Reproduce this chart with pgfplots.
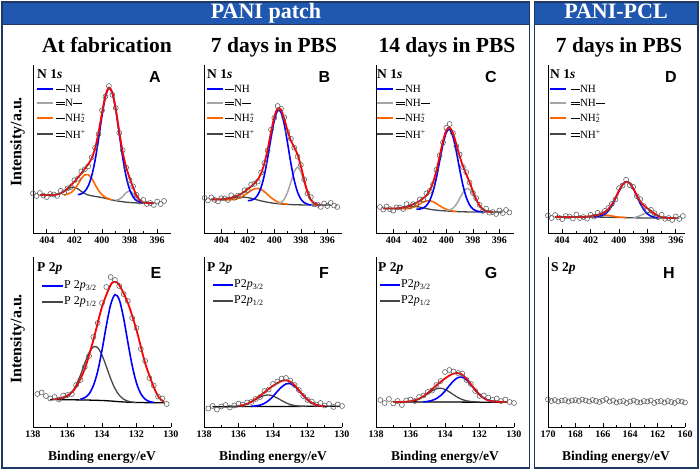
\documentclass[border=0pt]{standalone}
\usepackage{fontspec}
\setmainfont{Liberation Serif}
\newfontfamily\arialfont{Liberation Sans}
\usepackage{pgfplots}
\pgfplotsset{compat=1.18}
\definecolor{cblue}{RGB}{0,0,255}
\definecolor{cgray}{RGB}{165,165,165}
\definecolor{corange}{RGB}{255,102,0}
\definecolor{cdark}{RGB}{70,70,70}
\definecolor{cred}{RGB}{255,0,0}
\definecolor{scgray}{RGB}{90,90,90}
\definecolor{band}{RGB}{32,88,176}
\definecolor{navy}{RGB}{31,56,100}
\newcommand{\sbond}{\rule[0.3em]{0.8em}{0.45pt}}
\newcommand{\dbond}{\rlap{\rule[0.2em]{0.8em}{0.45pt}}\rule[0.42em]{0.8em}{0.45pt}}
\newcommand{\nhtwo}{NH\rlap{\textsuperscript{+}}\textsubscript{2}}
\pgfplotsset{
  panel/.style={
    scale only axis, width=138pt, height=168pt, anchor=south west,
    axis x line=bottom, axis y line=left, axis line style={-, line width=0.8pt},
    x dir=reverse, ymin=0, ymax=168, ytick=\empty,
    tick align=inside, major tick length=3.5pt, minor tick length=2pt,
    every tick/.style={black, line width=0.6pt},
    minor x tick num=1,
    xticklabel style={font=\fontsize{10}{11}\selectfont\bfseries},
    /pgf/number format/assume math mode=true,
    scaled x ticks=false,
  },
  panelb/.style={panel, height=170pt, ymax=170},
  sc/.style={only marks, mark=o, mark size=2.5pt, mark options={line width=0.55pt, draw=scgray}},
  cb/.style={cblue, line width=1.6pt, smooth, no marks},
  cg/.style={cgray, line width=1.5pt, smooth, no marks},
  co/.style={corange, line width=1.6pt, smooth, no marks},
  cd/.style={cdark, line width=1.3pt, smooth, no marks},
  cr/.style={cred, line width=1.8pt, smooth, no marks},
  ck/.style={black, line width=1.3pt, smooth, no marks},
}
\begin{document}
\begin{tikzpicture}[x=1pt,y=1pt]
\useasboundingbox (0pt,0pt) rectangle (700pt,470pt);
% frames and header bands
\fill[band] (2,445) rectangle (529.5,468);
\fill[band] (534.5,445) rectangle (698,468);
\draw[navy, line width=1.8pt] (2,2) rectangle (529.5,468);
\draw[navy, line width=1.8pt] (534.5,2) rectangle (698,468);
\draw[navy, line width=1pt] (2,445) -- (529.5,445);
\draw[navy, line width=1pt] (534.5,445) -- (698,445);
\node[anchor=base, text=white, font=\fontsize{22}{22}\selectfont\bfseries] at (266,451) {PANI patch};
\node[anchor=base, text=white, font=\fontsize{22}{22}\selectfont\bfseries] at (616,451) {PANI-PCL};
% column titles
\begin{scope}[every node/.style={anchor=base, font=\fontsize{21.5}{22}\selectfont\bfseries}]
\node at (107,417) {At fabrication};
\node at (274,417) {7 days in PBS};
\node at (447,417) {14 days in PBS};
\node at (619,417) {7 days in PBS};
\end{scope}
% y labels
\node[rotate=90, font=\fontsize{16}{16}\selectfont\bfseries] at (17.5,328) {Intensity/a.u.};
\node[rotate=90, font=\fontsize{16}{16}\selectfont\bfseries] at (17.5,131) {Intensity/a.u.};
% x labels
\begin{scope}[every node/.style={font=\fontsize{13.5}{14}\selectfont\bfseries}]
\node at (102,12.5) {Binding energy/eV};
\node at (273,12.5) {Binding energy/eV};
\node at (445,12.5) {Binding energy/eV};
\node at (616,12.5) {Binding energy/eV};
\end{scope}

% ---------------- Panel A ----------------
\begin{axis}[panel, at={(33pt,237pt)}, xmin=395, xmax=405, xtick={396,398,...,404}]
\addplot[sc] coordinates {(405.0,39.5) (404.75,37) (404.5,40) (404.25,37.5) (404.0,36) (403.75,39) (403.5,38.5) (403.25,37.1) (403.0,42.1) (402.75,40.6) (402.5,44.6) (402.25,46) (402.0,52.8) (401.75,54.3) (401.5,61.6) (401.25,63.7) (401.0,66.7) (400.75,75.7) (400.5,85.2) (400.25,99) (400.0,122.6) (399.75,136.4) (399.5,147) (399.25,138.1) (399.0,125) (398.75,100.3) (398.5,82.9) (398.25,65.4) (398.0,53) (397.75,46.6) (397.5,38.2) (397.25,31.3) (397.0,33) (396.75,29) (396.5,30) (396.25,28) (396.0,31.5) (395.75,29) (395.5,32)};
\addplot[cd] coordinates {(404.5,38) (403.5,38) (403.25,38.6) (403,39.6) (402.75,41.4) (402.5,43.8) (402.25,45.6) (402,45.7) (401.75,44.1) (401.5,41.6) (401.25,39.4) (401,38) (400.75,37.2) (400.5,36.6) (400,35.4) (399.5,33.8) (399,32.3) (398.5,31.2) (398,30.5) (397.5,30.1) (397,30) (396.2,30)};
\addplot[co] coordinates {(402.75,38) (402.5,38.8) (402.25,40.4) (402,43.5) (401.75,48.5) (401.5,54.2) (401.25,58.2) (401,58.4) (400.75,54.6) (400.5,48.5) (400.25,42.5) (400,38.3) (399.75,35.7) (399.5,34.1) (399.25,33)};
\addplot[cg] coordinates {(399,32.8) (398.75,33.7) (398.5,36.5) (398.25,40.3) (398,42) (397.75,39.8) (397.5,35.4) (397.25,32) (397,30.5) (396.75,30)};
\addplot[cb] coordinates {(401.75,38.3) (401.5,39.2) (401.25,41.6) (401,46.9) (400.75,56.9) (400.5,72.8) (400.25,94) (400,117.2) (399.75,136.3) (399.5,145) (399.25,140) (399,123) (398.75,99.3) (398.5,75.6) (398.25,56.4) (398,43.5) (397.75,36.1) (397.5,32.4) (397.25,30.8) (397,30)};
\addplot[cr] coordinates {(404.5,38) (404,38) (403.5,38) (403.25,38.6) (403,39.6) (402.75,41.6) (402.5,44.6) (402.25,48) (402,51.3) (401.75,55.3) (401.5,59.6) (401.25,64.2) (401,68.7) (400.75,74.7) (400.5,84.7) (400.25,100.5) (400,120.1) (399.75,137.4) (399.5,145.3) (399.25,140.1) (399,123.5) (398.75,101.3) (398.5,80.9) (398.25,65.9) (398,55) (397.75,45.6) (397.5,37.7) (397.25,32.8) (397,30.5) (396.75,30) (396.25,30)};
\end{axis}

% ---------------- Panel B ----------------
\begin{axis}[panel, at={(204pt,237pt)}, xmin=394.9, xmax=405.3, xtick={396,398,...,404}]
\addplot[sc] coordinates {(405.25,35.1) (405.0,32.6) (404.75,35.6) (404.5,33.1) (404.25,31.6) (404.0,34.7) (403.75,34.6) (403.5,33) (403.25,37.7) (403.0,35.2) (402.75,37.4) (402.5,37.2) (402.25,42.8) (402.0,42.9) (401.75,48.5) (401.5,49.1) (401.25,51.4) (401.0,60.5) (400.75,70.1) (400.5,82.4) (400.25,103.3) (400.0,115.1) (399.75,127) (399.5,124.3) (399.25,115.6) (399.0,101.1) (398.75,94.2) (398.5,85.3) (398.25,76.4) (398.0,68) (397.75,53.6) (397.5,39.5) (397.25,35.8) (397.0,28.6) (396.75,28.4) (396.5,26.1) (396.25,29.5) (396.0,27) (395.75,30) (395.5,27.5) (395.25,26)};
\addplot[cd] coordinates {(404.75,33.6) (404.25,33.6) (404,33.7) (403.75,34) (403.5,34.3) (403.25,34.8) (403,35.3) (402.75,35.6) (402.5,35.8) (402.25,35.7) (402,35.4) (401.75,34.7) (401.5,33.9) (401.25,33) (401,32.1) (400.75,31.4) (400.5,30.7) (400.25,30.2) (400,29.7) (399.5,29) (399,28.6) (398.5,28.3) (398,28.1) (397,28) (395.75,28)};
\addplot[co] coordinates {(403.75,33.1) (403.5,33.2) (403.25,33.3) (403,33.7) (402.75,34.4) (402.5,35.8) (402.25,37.7) (402,40.2) (401.75,42.5) (401.5,44.2) (401.25,44.6) (401,43.6) (400.75,41.3) (400.5,38.4) (400.25,35.4) (400,33) (399.75,31.1) (399.5,29.9) (399.25,29.2) (399,28.75)};
\addplot[cg] coordinates {(399.75,29.7) (399.5,30.6) (399.25,33.9) (399,40.8) (398.75,51.1) (398.5,61.4) (398.25,65.7) (398,61.2) (397.75,50.7) (397.5,40.2) (397.25,33.1) (397,29.6) (396.75,28.4) (396.5,28)};
\addplot[cb] coordinates {(402,32.3) (401.75,32.7) (401.5,34.3) (401.25,38) (401,45.4) (400.75,57.9) (400.5,75.2) (400.25,95) (400,112.6) (399.75,122.4) (399.5,120.8) (399.25,108.6) (399,89.7) (398.75,69.5) (398.5,52.7) (398.25,40.9) (398,33.9) (397.75,30.4) (397.5,28.8) (397.25,28)};
\addplot[cr] coordinates {(404.75,33.6) (404.25,33.6) (404,33.7) (403.75,34.1) (403.5,34.5) (403.25,35.2) (403,36.2) (402.75,37.4) (402.5,39.2) (402.25,41.3) (402,43.9) (401.75,46.5) (401.5,49.6) (401.25,53.4) (401,59.5) (400.75,69.6) (400.5,83.9) (400.25,100.8) (400,116.1) (399.75,124.6) (399.5,123.3) (399.25,114.1) (399,102.1) (398.75,92.2) (398.5,85.8) (398.25,78.4) (398,67) (397.75,53.1) (397.5,41) (397.25,33.3) (397,29.6) (396.75,28.4) (396.5,28.1)};
\end{axis}

% ---------------- Panel C ----------------
\begin{axis}[panel, at={(376pt,237pt)}, xmin=394.9, xmax=405.3, xtick={396,398,...,404}]
\addplot[sc] coordinates {(405.0,26) (404.75,23.5) (404.5,26.4) (404.25,23.9) (404.0,22.4) (403.75,25.6) (403.5,25.4) (403.25,24) (403.0,28.9) (402.75,26.4) (402.5,28.8) (402.25,28.3) (402.0,33.6) (401.75,33.5) (401.5,39.6) (401.25,42.1) (401.0,48.6) (400.75,63.2) (400.5,77.5) (400.25,90.5) (400.0,105.2) (399.75,109) (399.5,99.9) (399.25,86.9) (399.0,78.5) (398.75,66) (398.5,60.8) (398.25,50.3) (398.0,40) (397.75,34.8) (397.5,28.1) (397.25,22.1) (397.0,24.4) (396.75,20.3) (396.5,21) (396.25,19) (396.0,22.5) (395.75,20) (395.5,23) (395.25,20.5)};
\addplot[cd] coordinates {(404.75,24.5) (404.25,24.4) (404,24.4) (403.75,24.6) (403.5,24.9) (403.25,25.3) (403,25.9) (402.75,26.3) (402.5,26.6) (402.25,26.4) (402,25.9) (401.75,25.25) (401.5,24.4) (401.25,23.75) (401,23.2) (400.75,22.8) (400.5,22.5) (400,22) (399.5,21.6) (399,21.3) (398.5,21.1) (398,21) (397,21) (395.75,21)};
\addplot[co] coordinates {(403.25,24.1) (403,24.3) (402.75,24.8) (402.5,25.7) (402.25,27.2) (402,29) (401.75,30.85) (401.5,32) (401.25,32.25) (401,31.3) (400.75,29.4) (400.5,27.2) (400.25,25.2) (400,23.7) (399.75,22.6) (399.5,21.9) (399.25,21.55)};
\addplot[cg] coordinates {(400,22.3) (399.75,23) (399.5,24.8) (399.25,28.55) (399,34.3) (398.75,40.4) (398.5,44.2) (398.25,43.65) (398,39) (397.75,32.7) (397.5,27.2) (397.25,23.6) (397,21.9) (396.75,21.3) (396.5,21)};
\addplot[cb] coordinates {(402.25,23.7) (402,24) (401.75,24.95) (401.5,27.4) (401.25,32.55) (401,41.7) (400.75,55.2) (400.5,72.1) (400.25,88.9) (400,100.7) (399.75,103.6) (399.5,96.4) (399.25,81.65) (399,64) (398.75,47.8) (398.5,35.7) (398.25,28.15) (398,24) (397.75,22.1) (397.5,21.4) (397.25,21.1)};
\addplot[cr] coordinates {(404.75,24.5) (404.25,24.4) (404,24.4) (403.75,24.6) (403.5,24.9) (403.25,25.5) (403,26.4) (402.75,27.4) (402.5,28.8) (402.25,30.3) (402,32.1) (401.75,34.55) (401.5,37.6) (401.25,42.65) (401,50.6) (400.75,62.2) (400.5,77) (400.25,92) (400,102.7) (399.75,105.6) (399.5,99.9) (399.25,88.85) (399,77) (398.75,67) (398.5,58.8) (398.25,50.75) (398,42) (397.75,33.8) (397.5,27.6) (397.25,23.6) (397,21.9) (396.75,21.3) (396.5,21)};
\end{axis}

% ---------------- Panel D ----------------
\begin{axis}[panel, width=137pt, at={(548pt,237pt)}, xmin=395.35, xmax=405, xtick={396,398,...,404}]
\addplot[sc] coordinates {(405.0,17.5) (404.75,15) (404.5,18) (404.25,15.5) (404.0,14) (403.75,17) (403.5,16.5) (403.25,14.5) (403.0,18.5) (402.75,15) (402.5,16) (402.25,14.35) (402.0,18.2) (401.75,16.35) (401.5,20.2) (401.25,18.75) (401.0,22.1) (400.75,25) (400.5,29.2) (400.25,33.6) (400.0,44.8) (399.75,47.45) (399.5,53.25) (399.25,47.9) (399.0,46.1) (398.75,36.85) (398.5,33.7) (398.25,26.95) (398.0,22.6) (397.75,23.1) (397.5,19.9) (397.25,15.7) (397.0,18.2) (396.75,14.2) (396.5,15) (396.25,13) (396.0,16.5) (395.75,14) (395.5,17)};
\addplot[cd] coordinates {(404.5,16) (402,16) (401,15.8) (400,15.5) (399,15.2) (398,15) (395.75,15)};
\addplot[co] coordinates {(402.5,16) (402.25,16.35) (402,16.7) (401.75,17.15) (401.5,17.7) (401.25,17.95) (401,18) (400.75,17.6) (400.5,17) (400.25,16.4) (400,15.9) (399.75,15.65) (399.5,15.35)};
\addplot[cg] coordinates {(399,15.2) (398.75,16.05) (398.5,17.4) (398.25,19.15) (398,20.4) (397.75,20.2) (397.5,18.7) (397.25,16.9) (397,15.7) (396.75,15.2) (396.5,15)};
\addplot[cb] coordinates {(401.75,16.15) (401.5,16.4) (401.25,17.15) (401,18.9) (400.75,22.15) (400.5,27.4) (400.25,34.3) (400,41.9) (399.75,48.25) (399.5,51.25) (399.25,49.9) (399,44.5) (398.75,36.95) (398.5,29.4) (398.25,23.35) (398,19.2) (397.75,16.9) (397.5,15.7) (397.25,15.3)};
\addplot[cr] coordinates {(404.5,16) (403,16) (402.5,16) (402.25,16.35) (402,16.7) (401.75,17.35) (401.5,18.2) (401.25,19.25) (401,21.1) (400.75,24) (400.5,28.7) (400.25,35.1) (400,42.3) (399.75,48.45) (399.5,51.25) (399.25,49.9) (399,44.6) (398.75,37.85) (398.5,31.7) (398.25,27.45) (398,24.6) (397.75,22.1) (397.5,19.4) (397.25,17.2) (397,15.7) (396.75,15.2) (396.5,15) (396,15)};
\end{axis}

% ---------------- Panel E ----------------
\begin{axis}[panelb, at={(33pt,43pt)}, xmin=130, xmax=138, xtick={130,132,...,138}]
\addplot[sc] coordinates {(137.75,33) (137.5,34.5) (137.25,31) (137.0,28.5) (136.75,30) (136.5,27.5) (136.25,31.5) (136.0,32) (135.75,33) (135.5,42) (135.25,47) (135.0,60) (134.75,71) (134.5,90) (134.25,104) (134.0,124) (133.75,140) (133.5,150) (133.25,147) (133.0,141) (132.75,133) (132.5,126) (132.25,109) (132.0,99) (131.75,78) (131.5,66) (131.25,49) (131.0,41.5) (130.75,30.5) (130.5,28.5) (130.25,23)};
\addplot[ck] coordinates {(137,27.5) (135,27) (134,26.5) (133.5,26) (133,25.3) (132.5,24.8) (132,24.5) (131,24.3) (130.4,24.2)};
\addplot[cd] coordinates {(136.5,27.9) (136.25,28.65) (136,30.7) (135.75,34.7) (135.5,41.75) (135.25,51.8) (135,63.6) (134.75,74.2) (134.5,80.2) (134.25,79.3) (134,71.9) (133.75,60.5) (133.5,48.5) (133.25,38.5) (133,31.8) (132.75,27.8) (132.5,25.9) (132.25,24.9) (132,24.5)};
\addplot[cb] coordinates {(135.25,27.8) (135,29.3) (134.75,33.1) (134.5,41.3) (134.25,55.6) (134,76.7) (133.75,101.1) (133.5,122.2) (133.25,132.3) (133,127.4) (132.75,109.2) (132.5,84.7) (132.25,61.4) (132,44) (131.75,33.3) (131.5,27.85) (131.25,25.5) (131,24.6)};
\addplot[cr] coordinates {(136.85,27.5) (136.5,28.5) (136,31.5) (135.5,40) (135,58) (134.5,87) (134,120) (133.5,142) (133.25,145) (133,142) (132.5,124) (132,97) (131.5,64) (131,40) (130.7,29.5) (130.4,25)};
\end{axis}

% ---------------- Panel F ----------------
\begin{axis}[panelb, at={(204pt,43pt)}, xmin=130, xmax=138, xtick={130,132,...,138}]
\addplot[sc] coordinates {(137.75,18.5) (137.5,21) (137.25,17.5) (137.0,20.5) (136.75,22) (136.5,19.5) (136.25,21.5) (136.0,23.5) (135.75,22.5) (135.5,24.5) (135.25,25) (135.0,28) (134.75,30) (134.5,36) (134.25,37.5) (134.0,43) (133.75,45.5) (133.5,48.5) (133.25,49) (133.0,46.5) (132.75,42) (132.5,37) (132.25,31) (132.0,27) (131.75,25.5) (131.5,22.5) (131.25,24) (131.0,21.5) (130.75,23) (130.5,20) (130.25,22.5) (130.0,21)};
\addplot[ck] coordinates {(137.5,20.3) (130.1,20.8)};
\addplot[cd] coordinates {(136.5,20.5) (136.25,20.7) (136,21.1) (135.75,21.8) (135.5,23.1) (135.25,25.1) (135,27.5) (134.75,29.8) (134.5,31.5) (134.25,32) (134,31) (133.75,28.9) (133.5,26.5) (133.25,24.2) (133,22.5) (132.75,21.5) (132.5,20.9) (132.25,20.7) (132,20.5)};
\addplot[cb] coordinates {(135.25,20.7) (135,21.1) (134.75,21.9) (134.5,23.6) (134.25,26.5) (134,30.6) (133.75,35.5) (133.5,40) (133.25,43) (133,43.3) (132.75,40.8) (132.5,36.4) (132.25,31.5) (132,27.2) (131.75,24.1) (131.5,22.2) (131.25,21.2) (131,20.8)};
\addplot[cr] coordinates {(136,21.1) (135.75,21.8) (135.5,23.2) (135.25,25.3) (135,28.1) (134.75,31.2) (134.5,34.6) (134.25,38) (134,41.1) (133.75,43.9) (133.5,46) (133.25,46.7) (133,45.3) (132.75,41.8) (132.5,36.8) (132.25,31.7) (132,27.2) (131.75,24.1) (131.5,22.2) (131.25,21.2) (131,20.8)};
\end{axis}

% ---------------- Panel G ----------------
\begin{axis}[panelb, at={(376pt,43pt)}, xmin=130, xmax=138, xtick={130,132,...,138}]
\addplot[sc] coordinates {(137.75,27) (137.5,24) (137.25,28) (137.0,23.5) (136.75,26) (136.5,22) (136.25,26.5) (136.0,27.5) (135.75,26) (135.5,30) (135.25,31.5) (135.0,35) (134.75,36.5) (134.5,42) (134.25,46) (134.0,55) (133.75,57) (133.5,55.5) (133.25,54) (133.0,53.5) (132.75,47) (132.5,43) (132.25,36) (132.0,31) (131.75,31.5) (131.5,29.5) (131.25,27) (131.0,28.5) (130.75,26) (130.5,27.5) (130.25,25) (130.0,24)};
\addplot[ck] coordinates {(137.0,25.2) (130.4,24.7)};
\addplot[cd] coordinates {(136.5,25.1) (136.25,25.3) (136,25.7) (135.75,26.6) (135.5,28.2) (135.25,30.5) (135,33.4) (134.75,36.2) (134.5,38.2) (134.25,38.8) (134,37.6) (133.75,35.1) (133.5,32.2) (133.25,29.5) (133,27.5) (132.75,26.2) (132.5,25.5) (132.25,25.2) (132,25)};
\addplot[cb] coordinates {(135.25,25.2) (135,25.6) (134.75,26.6) (134.5,28.4) (134.25,31.5) (134,35.9) (133.75,41.3) (133.5,46.2) (133.25,49.4) (133,49.8) (132.75,47.1) (132.5,42.3) (132.25,37) (132,32.3) (131.75,28.9) (131.5,26.8) (131.25,25.8) (131,25.3)};
\addplot[cr] coordinates {(137,25) (136.5,25.1) (136.25,25.3) (136,25.7) (135.75,26.65) (135.5,28.3) (135.25,30.7) (135,34) (134.75,37.8) (134.5,41.6) (134.25,45.3) (134,48.5) (133.75,51.4) (133.5,53.4) (133.25,53.9) (133,52.3) (132.75,48.3) (132.5,42.8) (132.25,37.2) (132,32.3) (131.75,28.9) (131.5,26.8) (131.25,25.8) (131,25.3) (130.4,25)};
\end{axis}

% ---------------- Panel H ----------------
\begin{axis}[panelb, width=137pt, at={(548pt,43pt)}, xmin=160, xmax=170, xtick={160,162,...,170}]
\addplot[sc] coordinates {(170.0,27.5) (169.75,26) (169.5,27) (169.25,25.5) (169.0,26.5) (168.75,27) (168.5,25.5) (168.25,26.5) (168.0,27) (167.75,26) (167.5,27.5) (167.25,26.5) (167.0,25.5) (166.75,27) (166.5,26) (166.25,25) (166.0,26.5) (165.75,28) (165.5,25.5) (165.25,26.5) (165.0,24.5) (164.75,25.5) (164.5,26) (164.25,24) (164.0,25.5) (163.75,26.5) (163.5,25) (163.25,24.5) (163.0,26) (162.75,25.5) (162.5,26.5) (162.25,24) (162.0,25.5) (161.75,26) (161.5,24.5) (161.25,26) (161.0,25) (160.75,24) (160.5,26) (160.25,25.5) (160.0,24.5)};
\end{axis}

% ---------------- panel labels ----------------
\begin{scope}[every node/.style={anchor=base west, font=\fontsize{13.5}{14}\selectfont\bfseries, inner sep=0pt}]
\node at (37,391) {N 1\textit{s}};
\node at (207,391) {N 1\textit{s}};
\node at (377,391) {N 1\textit{s}};
\node at (550,391) {N 1\textit{s}};
\node at (37,198) {P 2\textit{p}};
\node at (207,198) {P 2\textit{p}};
\node at (378,198) {P 2\textit{p}};
\node at (551,198) {S 2\textit{p}};
\end{scope}
\begin{scope}[every node/.style={font=\arialfont\fontsize{16}{16}\selectfont\bfseries, inner sep=0pt}]
\node at (155,392.5) {A};
\node at (324.5,392.5) {B};
\node at (491,392.5) {C};
\node at (671,392.5) {D};
\node at (156,197) {E};
\node at (324,197) {F};
\node at (491,197) {G};
\node at (669,197) {H};
\end{scope}

% ---------------- legends (top row) ----------------
\begin{scope}[every node/.style={anchor=west, font=\fontsize{11}{12}\selectfont, inner sep=0pt}]
\foreach \lx/\tx/\gr in {37/56/{\dbond N\sbond}, 207/225/{\dbond N\sbond}, 377/396/{\dbond NH\sbond}, 550/571/{\dbond NH\sbond}} {
  \draw[cblue, line width=1.6pt] (\lx,381) -- ++(16,0);
  \draw[cgray, line width=1.5pt] (\lx,367) -- ++(16,0);
  \draw[corange, line width=1.6pt] (\lx,352) -- ++(16,0);
  \draw[cdark, line width=1.5pt] (\lx,336) -- ++(16,0);
  \node at (\tx,381) {\sbond NH};
  \node at (\tx,367) {\gr};
  \node at (\tx,352) {\sbond\nhtwo};
  \node at (\tx,336) {\dbond NH\textsuperscript{+}};
}
\end{scope}
% ---------------- legends (bottom row) ----------------
\begin{scope}[every node/.style={anchor=west, font=\fontsize{12}{13}\selectfont, inner sep=0pt}]
\draw[cblue, line width=1.6pt] (42,184) -- (63,184);
\draw[cdark, line width=1.5pt] (42,168) -- (63,168);
\node at (64,184) {P 2\textit{p}\textsubscript{3/2}};
\node at (64,168) {P 2\textit{p}\textsubscript{1/2}};
\draw[cblue, line width=1.6pt] (213,185) -- (233,185);
\draw[cdark, line width=1.5pt] (213,169) -- (233,169);
\node at (234,185) {P2\textit{p}\textsubscript{3/2}};
\node at (234,169) {P2\textit{p}\textsubscript{1/2}};
\draw[cblue, line width=1.6pt] (380,185) -- (400,185);
\draw[cdark, line width=1.5pt] (380,169) -- (400,169);
\node at (401,185) {P2\textit{p}\textsubscript{3/2}};
\node at (401,169) {P2\textit{p}\textsubscript{1/2}};
\end{scope}
\end{tikzpicture}
\end{document}
